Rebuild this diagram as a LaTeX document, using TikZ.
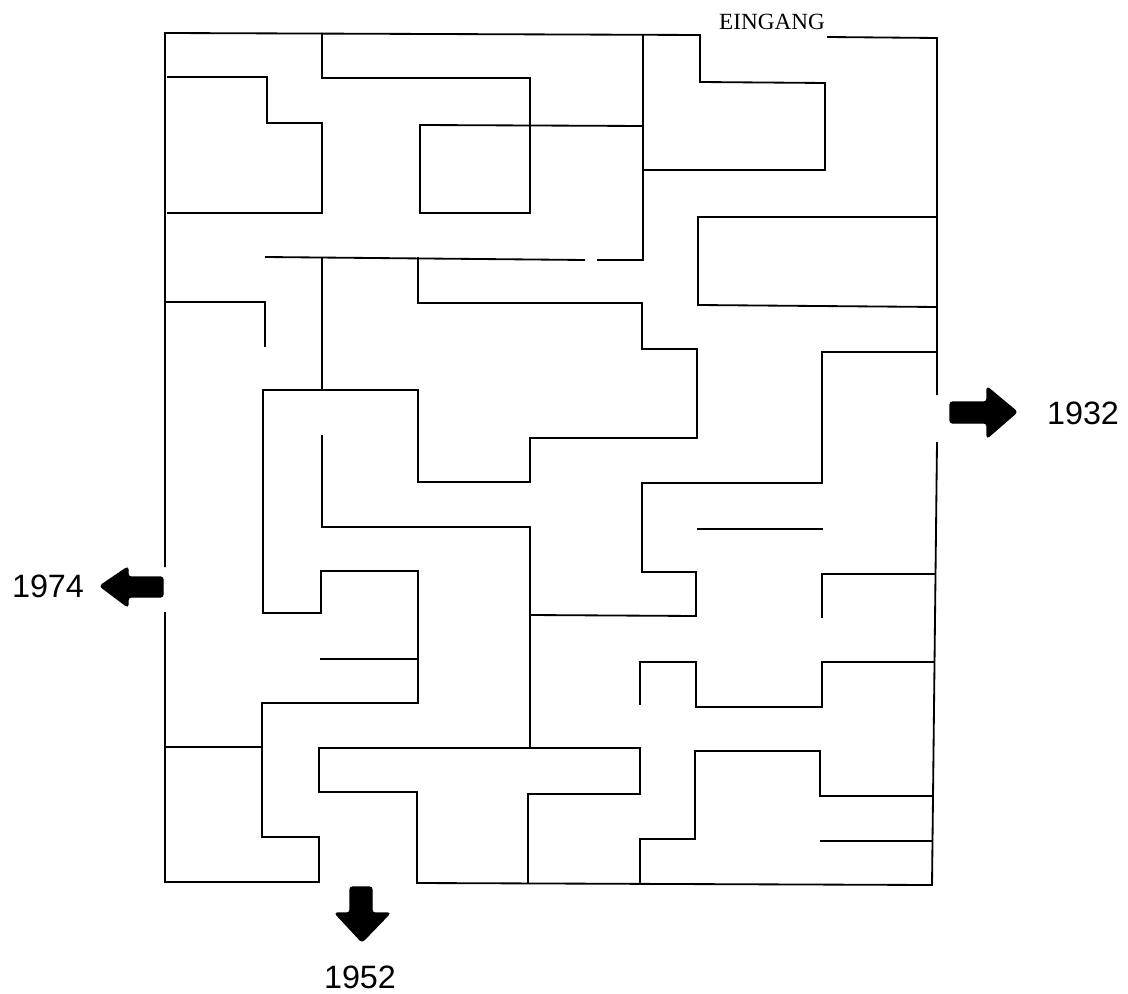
\documentclass[tikz,border=0pt]{standalone}
\usepackage{fontspec}
\setmainfont{Liberation Serif}
\newfontfamily\yearfont{Liberation Sans}
\begin{document}
\begin{tikzpicture}[x=0.25mm,y=-0.25mm]
  \tikzstyle{wall}=[color=black, line width=1.3pt, line join=miter]
  \tikzstyle{exitarrow}=[fill=black, draw=black, line width=1pt, rounded corners=2pt]
  \tikzstyle{year}=[font=\yearfont\fontsize{23}{27}\selectfont, inner sep=0pt]
  \useasboundingbox (0,0) rectangle (1128,994);
  % outer walls
  \draw [wall] (165,567) -- (165,33) -- (700,35) -- (700,82) -- (825,83) -- (825,170) -- (643,170);
  \draw [wall] (827,37) -- (937,38) -- (937,395);
  \draw [wall] (937,442) -- (932,885) -- (417,883) -- (417,792) -- (319,792) -- (319,748) -- (640,748) -- (640,794) -- (528,794) -- (528,883);
  \draw [wall] (165,612) -- (165,882) -- (319,882) -- (319,837) -- (262,837) -- (262,703) -- (418,703) -- (418,571) -- (321,571) -- (321,613) -- (263,613) -- (263,390) -- (418,390) -- (418,482) -- (530,482) -- (530,438) -- (697,438) -- (697,349) -- (642,349) -- (642,303) -- (418,303) -- (418,257);
  % inner walls
  \draw [wall] (643,35) -- (643,260) -- (597,260);
  \draw [wall] (585,260) -- (265,257);
  \draw [wall] (322,257) -- (322,390);
  \draw [wall] (167,77) -- (267,77) -- (267,123) -- (322,123) -- (322,213) -- (167,213);
  \draw [wall] (322,33) -- (322,78) -- (530,78) -- (530,213) -- (420,213) -- (420,125) -- (643,126);
  \draw [wall] (165,302) -- (265,302) -- (265,347);
  \draw [wall] (937,217) -- (698,217) -- (698,305) -- (937,307);
  \draw [wall] (322,435) -- (322,527) -- (530,527) -- (530,748);
  \draw [wall] (530,615) -- (696,616) -- (696,572) -- (642,572) -- (642,483) -- (822,483) -- (822,352) -- (937,352);
  \draw [wall] (697,529) -- (823,529);
  \draw [wall] (822,618) -- (822,574) -- (935,574);
  \draw [wall] (320,659) -- (418,659);
  \draw [wall] (165,747) -- (262,747);
  \draw [wall] (640,705) -- (640,662) -- (696,662) -- (696,707) -- (822,707) -- (822,662) -- (935,662);
  \draw [wall] (640,883) -- (640,839) -- (695,839) -- (695,751) -- (820,751) -- (820,796) -- (934,796);
  \draw [wall] (820,841) -- (933,841);
  % exits
  \draw [exitarrow] (163,577) -- (128,577) -- (128,567) -- (100,586) -- (128,607) -- (128,597) -- (163,597) -- cycle;
  \draw [exitarrow] (950,402) -- (987,402) -- (987,387) -- (1017,412) -- (987,438) -- (987,423) -- (950,423) -- cycle;
  \draw [exitarrow] (350,887) -- (372,887) -- (372,913) -- (390,913) -- (362,942) -- (335,913) -- (350,913) -- cycle;
  \node [year] (y1974) at (48,586) {1974};
  \node [year] (y1932) at (1083,413) {1932};
  \node [year] (y1952) at (360,977) {1952};
  \node [font=\fontsize{16.5}{20}\selectfont, inner sep=0pt] (eingang) at (772,22) {EINGANG};
\end{tikzpicture}
\end{document}
